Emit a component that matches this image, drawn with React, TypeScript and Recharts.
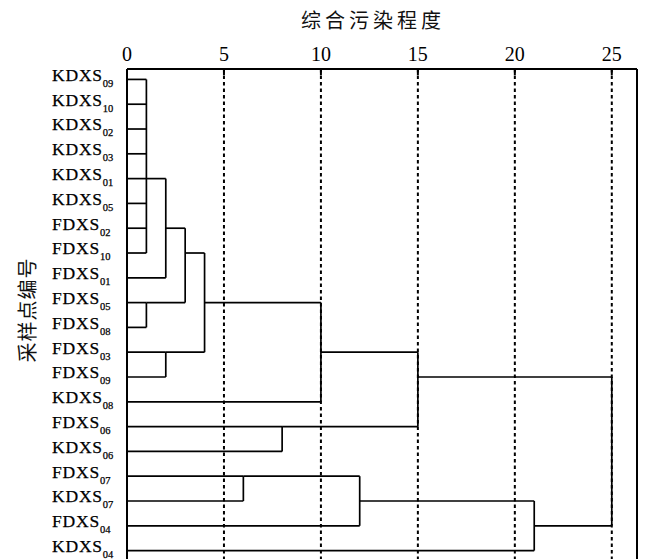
import React from 'react';
import { ComposedChart, Line, XAxis, YAxis, CartesianGrid, ReferenceLine } from 'recharts';

// leaf order top -> bottom, as in the dendrogram
const samples = [
  'KDXS09', 'KDXS10', 'KDXS02', 'KDXS03', 'KDXS01', 'KDXS05', 'FDXS02', 'FDXS10',
  'FDXS01', 'FDXS05', 'FDXS08', 'FDXS03', 'FDXS09', 'KDXS08', 'FDXS06', 'KDXS06',
  'FDXS07', 'KDXS07', 'FDXS04', 'KDXS04',
];

const distanceTicks = [0, 5, 10, 15, 20, 25];

// merge steps (rescaled distance); row = leaf row where the cluster's line leaves
const merges = [
  { id: 'A', members: ['KDXS09', 'KDXS10', 'KDXS02', 'KDXS03', 'KDXS01', 'KDXS05', 'FDXS02', 'FDXS10'], height: 1, row: 4 },
  { id: 'B', members: ['A', 'FDXS01'], height: 2, row: 6 },
  { id: 'C', members: ['FDXS05', 'FDXS08'], height: 1, row: 9 },
  { id: 'D', members: ['B', 'C'], height: 3, row: 7 },
  { id: 'E', members: ['FDXS03', 'FDXS09'], height: 2, row: 11 },
  { id: 'F', members: ['D', 'E'], height: 4, row: 9 },
  { id: 'G', members: ['F', 'KDXS08'], height: 10, row: 11 },
  { id: 'H', members: ['FDXS06', 'KDXS06'], height: 8, row: 14 },
  { id: 'I', members: ['G', 'H'], height: 15, row: 12 },
  { id: 'J', members: ['FDXS07', 'KDXS07'], height: 6, row: 16 },
  { id: 'K', members: ['J', 'FDXS04'], height: 12, row: 17 },
  { id: 'L', members: ['K', 'KDXS04'], height: 21, row: 18 },
  { id: 'M', members: ['I', 'L'], height: 25, row: 15 },
];

const X_MAX = 26.3;
const Y_MIN = -0.42;
const Y_MAX = 19.42;

const nodeOf = (id: string) => {
  const leaf = samples.indexOf(id);
  if (leaf >= 0) return { row: leaf, h: 0 };
  const m = merges.find((c) => c.id === id)!;
  return { row: m.row, h: m.height };
};

const segments: { x: number; y: number }[][] = [];
merges.forEach((m) => {
  const nodes = m.members.map(nodeOf);
  const rows = nodes.map((n) => n.row);
  segments.push([
    { x: m.height, y: Math.min(...rows) },
    { x: m.height, y: Math.max(...rows) },
  ]);
  nodes.forEach((n) => {
    segments.push([
      { x: n.h, y: n.row },
      { x: m.height, y: n.row },
    ]);
  });
});

const serif = '"Liberation Serif", "Times New Roman", serif';
const cjk = '"Noto Sans CJK SC", sans-serif';

const XTick = (props: any) => {
  const { x, y, payload } = props;
  return (
    <g>
      <text x={x} y={y} textAnchor="middle" fontFamily={serif} fontSize={20} fill="#000">
        {payload.value}
      </text>
      <line x1={x} x2={x} y1={y + 8} y2={y + 14} stroke="#000" strokeWidth={2} />
    </g>
  );
};

const YTick = (props: any) => {
  const { y, payload } = props;
  const name = samples[payload.value] || '';
  const m = name.match(/^(\D+)(\d+)$/);
  if (!m) return null;
  return (
    <text x={52} y={y + 1.4} fontFamily={serif} fill="#000" stroke="#000" strokeWidth={0.25}>
      <tspan fontSize={17.5} letterSpacing={0.8}>{m[1]}</tspan>
      <tspan fontSize={10.5} dy={6}>{m[2]}</tspan>
    </text>
  );
};

export default function App() {
  return (
    <div style={{ position: 'fixed', left: 0, top: 0, width: 646, height: 559, overflow: 'hidden', background: '#fff' }}>
      <ComposedChart width={646} height={570} margin={{ top: 0, right: 9, bottom: 9, left: 0 }}>
        <CartesianGrid
          horizontal={false}
          stroke="#000"
          strokeWidth={2}
          strokeDasharray="3.5 3"
        />
        <XAxis
          xAxisId={0}
          type="number"
          dataKey="x"
          orientation="top"
          domain={[0, X_MAX]}
          ticks={distanceTicks}
          allowDataOverflow
          height={69}
          tickSize={0}
          tickMargin={8}
          tickLine={false}
          axisLine={{ stroke: '#000', strokeWidth: 2 }}
          tick={<XTick />}
          label={{
            value: '综合污染程度',
            content: () => (
              <text x={373} y={28} textAnchor="middle" fontFamily={cjk} fontSize={20} letterSpacing={4} fill="#111">
                综合污染程度
              </text>
            ),
          }}
        />
        <YAxis
          yAxisId={0}
          type="number"
          domain={[Y_MIN, Y_MAX]}
          reversed
          allowDataOverflow
          ticks={samples.map((_, i) => i)}
          interval={0}
          width={127}
          tickLine={false}
          axisLine={{ stroke: '#000', strokeWidth: 2 }}
          tick={<YTick />}
          label={{
            value: '采样点编号',
            content: () => (
              <text
                transform="translate(26,310) rotate(-90)"
                textAnchor="middle"
                dominantBaseline="central"
                fontFamily={cjk}
                fontSize={20}
                letterSpacing={1}
                fill="#111"
              >
                采样点编号
              </text>
            ),
          }}
        />
        <ReferenceLine x={X_MAX} stroke="#000" strokeWidth={2} />
        {segments.map((seg, i) => (
          <Line
            key={i}
            data={seg}
            dataKey="y"
            type="linear"
            stroke="#000"
            strokeWidth={1.7}
            dot={false}
            activeDot={false}
            isAnimationActive={false}
          />
        ))}
      </ComposedChart>
    </div>
  );
}
